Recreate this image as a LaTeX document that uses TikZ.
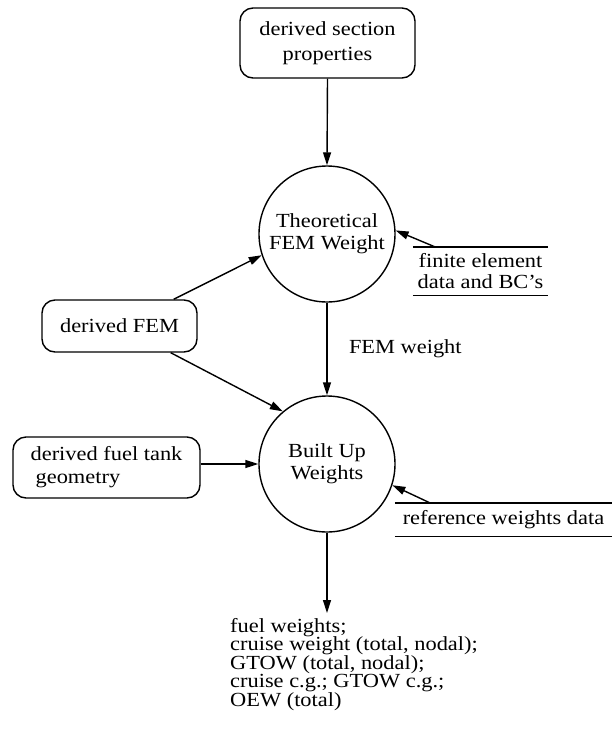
\documentclass[tikz,border=0pt]{standalone}
\usepackage{fontspec}
\setmainfont{Liberation Serif}[FakeStretch=1.12]
\usetikzlibrary{arrows.meta,calc}
\begin{document}
\begin{tikzpicture}[x=1pt,y=-1pt,
  every node/.style={font=\fontsize{20}{22}\selectfont},
  flow/.style={line width=1.4pt,-{Triangle[length=13pt,width=8pt]}},
  store/.style={draw,line width=1.4pt,rounded corners=13pt,inner sep=0pt},
  proc/.style={draw,circle,line width=1.4pt,minimum size=136pt,inner sep=0pt,align=center},
  ext/.style={inner sep=0pt,align=center},
  rule/.style={line width=1.4pt}]
\path[use as bounding box] (0,0) rectangle (612,740);

% data stores and processes
\node[store,minimum width=175pt,minimum height=70pt,align=center,
      font=\fontsize{20}{25}\selectfont] (sect) at (327.5,43) {derived section\\properties};
\node[proc] (theo) at (327,234) {Theoretical\\FEM Weight};
\node[proc] (built) at (327,464) {Built Up\\Weights};
\node[store,minimum width=155pt,minimum height=52pt] (fem) at (119.5,326) {derived FEM};
\node[store,minimum width=187pt,minimum height=61pt,align=left,
      font=\fontsize{20}{23}\selectfont] (fuel) at (106.5,467.5) {derived fuel tank\\\hspace*{5pt}geometry};

% external inputs between rules
\node[ext,minimum width=135pt,minimum height=48pt,
      font=\fontsize{20}{21}\selectfont] (fedata) at (480.5,271) {finite element\\data and BC's};
\node[ext,minimum width=217pt,minimum height=33pt] (refdata) at (503.5,519.5) {reference weights data};
\draw[rule] (fedata.north west) -- (fedata.north east);
\draw[rule] (fedata.south west) -- (fedata.south east);
\draw[rule] (refdata.north west) -- (refdata.north east);
\draw[rule] (refdata.south west) -- (refdata.south east);

% outputs
\node[inner sep=0pt,align=left,anchor=north west,
      font=\fontsize{20}{18.5}\selectfont] (result) at (230,618)
  {fuel weights;\\cruise weight (total, nodal);\\GTOW (total, nodal);\\cruise c.g.; GTOW c.g.;\\OEW (total)};

% flows
\draw[flow] (sect.south) -- (theo.north);
\draw[flow] ([xshift=-24pt]fem.north east) -- (theo.198);
\draw[flow] ([xshift=-27pt]fem.south east) -- (built.130);
\draw[flow] (fuel.east |- built.west) -- (built.west);
\draw[flow] (theo.south) -- node[right=18pt] (femw) {FEM weight} (built.north);
\draw[flow] ([xshift=22pt]fedata.north west) -- (theo.3);
\draw[flow] ([xshift=35pt]refdata.north west) -- (built.342);
\draw[flow] (built.south) -- ([yshift=5pt]built.south |- result.north);
\end{tikzpicture}
\end{document}
